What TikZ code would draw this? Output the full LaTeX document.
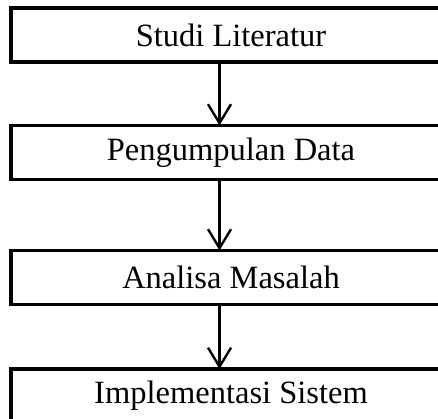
\documentclass[tikz,border=0pt]{standalone}
\usepackage{fontspec}
\setmainfont{Liberation Serif}
\usetikzlibrary{positioning,arrows.meta}
\tikzset{
  >={Straight Barb[length=19pt,width=23pt]},
  stepbox/.style={draw=black,fill=white,line width=3.2pt,minimum width=440pt,minimum height=54pt,
    inner sep=0pt,outer sep=0pt,font=\fontsize{32.5}{38}\selectfont},
  flow/.style={->,draw=black,line width=2.4pt},
}
\begin{document}
\begin{tikzpicture}[x=1pt,y=1pt]
  \useasboundingbox (0,0) rectangle (438,-418);
  \clip (0,0) rectangle (438,-418);
  % steps
  \node[stepbox] (lit) at (231,-35) {Studi Literatur};
  \node[stepbox] (data) at (231,-152.5) {Pengumpulan Data};
  \node[stepbox] (anl) at (231,-277.5) {Analisa Masalah};
  \node[stepbox] (impl) at (231,-396) {Implementasi Sistem};
  % arrows
  \coordinate (ax) at (219.5,0);
  \draw[flow] (lit.south -| ax) -- (data.north -| ax);
  \draw[flow] (data.south -| ax) -- (anl.north -| ax);
  \draw[flow] (anl.south -| ax) -- (impl.north -| ax);
\end{tikzpicture}
\end{document}
